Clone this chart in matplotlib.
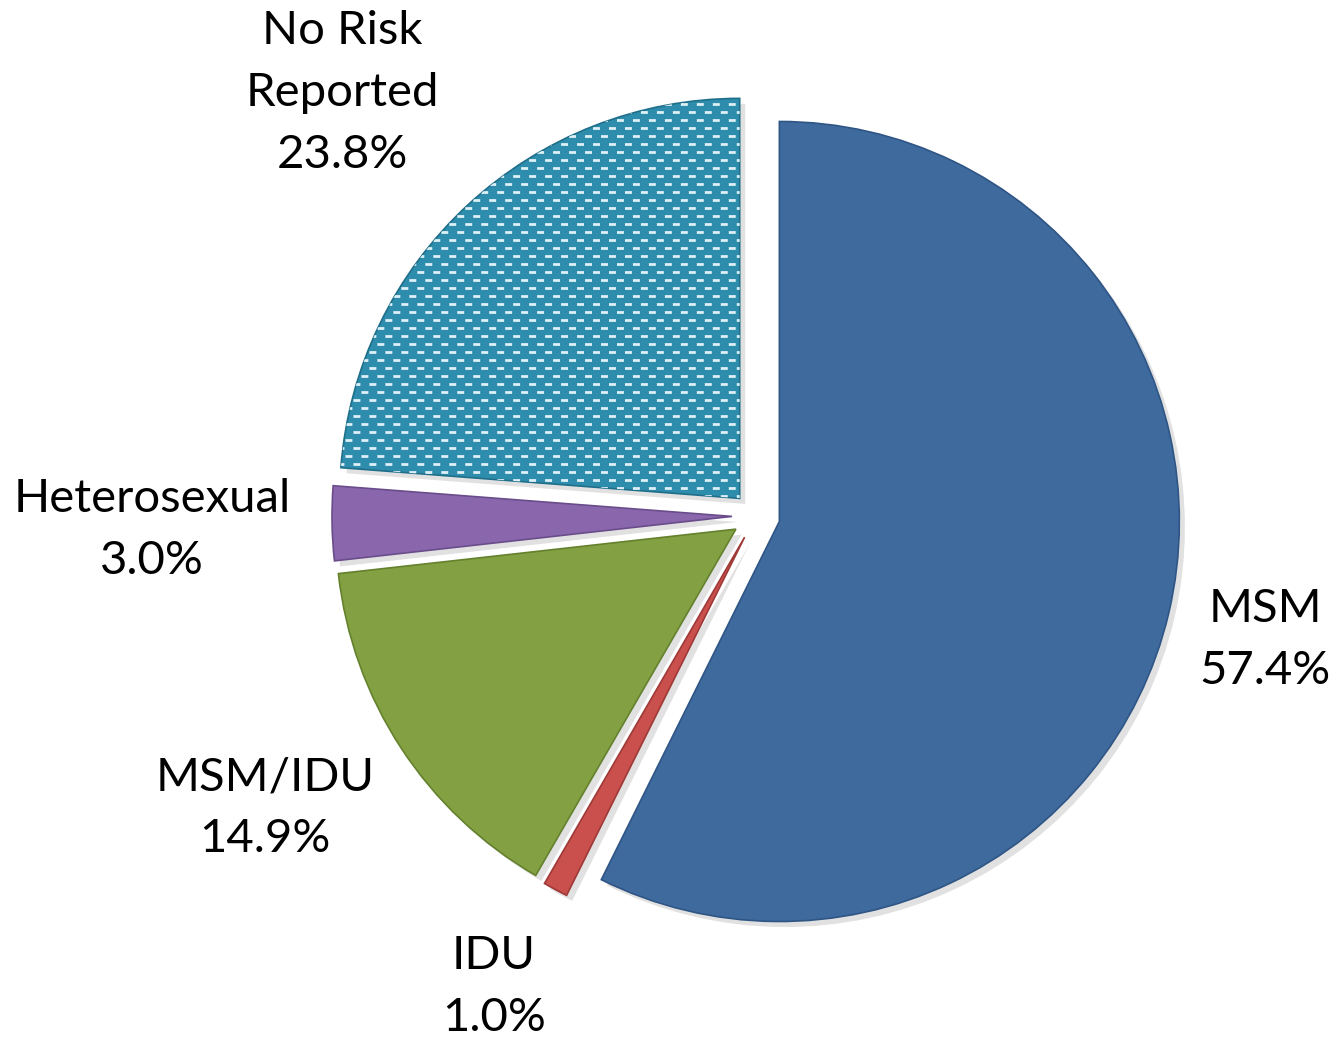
import matplotlib
matplotlib.use("Agg")
import matplotlib.pyplot as plt
import matplotlib.patheffects as pe
import numpy as np

# ---- data ----
categories = ["MSM", "IDU", "MSM/IDU", "Heterosexual", "No Risk\nReported"]
values = [57.4, 1.0, 14.9, 3.0, 23.8]
colors = ["#3F6A9D", "#C9504C", "#83A043", "#8A67AD", "#2E8DAC"]
edge_colors = ["#2F5585", "#9E3936", "#64812D", "#6A4C8B", "#1F6F8A"]

# label positions in pixel coords (layout)
label_pos = [(1265, 402), (494, 55), (265, 234), (152, 512), (342, 949)]

plt.rcParams['lines.scale_dashes'] = False
plt.rcParams['font.family'] = ['Lato', 'DejaVu Sans']

W, H = 1337, 1042
R = 400
fig = plt.figure(figsize=(W / 100, H / 100), dpi=100)
ax = fig.add_axes([0, 0, 1, 1])

wedges, _ = ax.pie(values, colors=colors, startangle=90, counterclock=False,
                   explode=[0.06 * R] * len(values), center=(756, 526), radius=R,
                   wedgeprops=dict(linewidth=1.2))
for w, ec in zip(wedges, edge_colors):
    w.set_edgecolor(ec)
    w.set_path_effects([pe.SimplePatchShadow(offset=(4, -4), shadow_rgbFace='#888888', alpha=0.25),
                        pe.Normal()])

# dashed pattern inside the "No Risk Reported" wedge
nr = wedges[4]
bb = nr.get_path().get_extents(nr.get_patch_transform())
row = 0
y = bb.y0 + 2
while y < bb.y1:
    off = 0 if row % 2 == 0 else 5.75
    ln, = ax.plot([bb.x0 - 20, bb.x1 + 20], [y, y], color='#DDF0F6', lw=2.0,
                  linestyle=(off, (5.0, 6.5)), solid_capstyle='butt', dash_capstyle='butt')
    ln.set_clip_path(nr)
    y += 8
    row += 1

for cat, val, (x, yy) in zip(categories, values, label_pos):
    ax.text(x, yy, f"{cat}\n{val:.1f}%", ha='center', va='center', fontsize=34,
            linespacing=1.58, color='black')

ax.set_xlim(0, W)
ax.set_ylim(0, H)
ax.set_aspect('equal')
ax.axis('off')
fig.savefig("out.png", dpi=100, facecolor='white')
